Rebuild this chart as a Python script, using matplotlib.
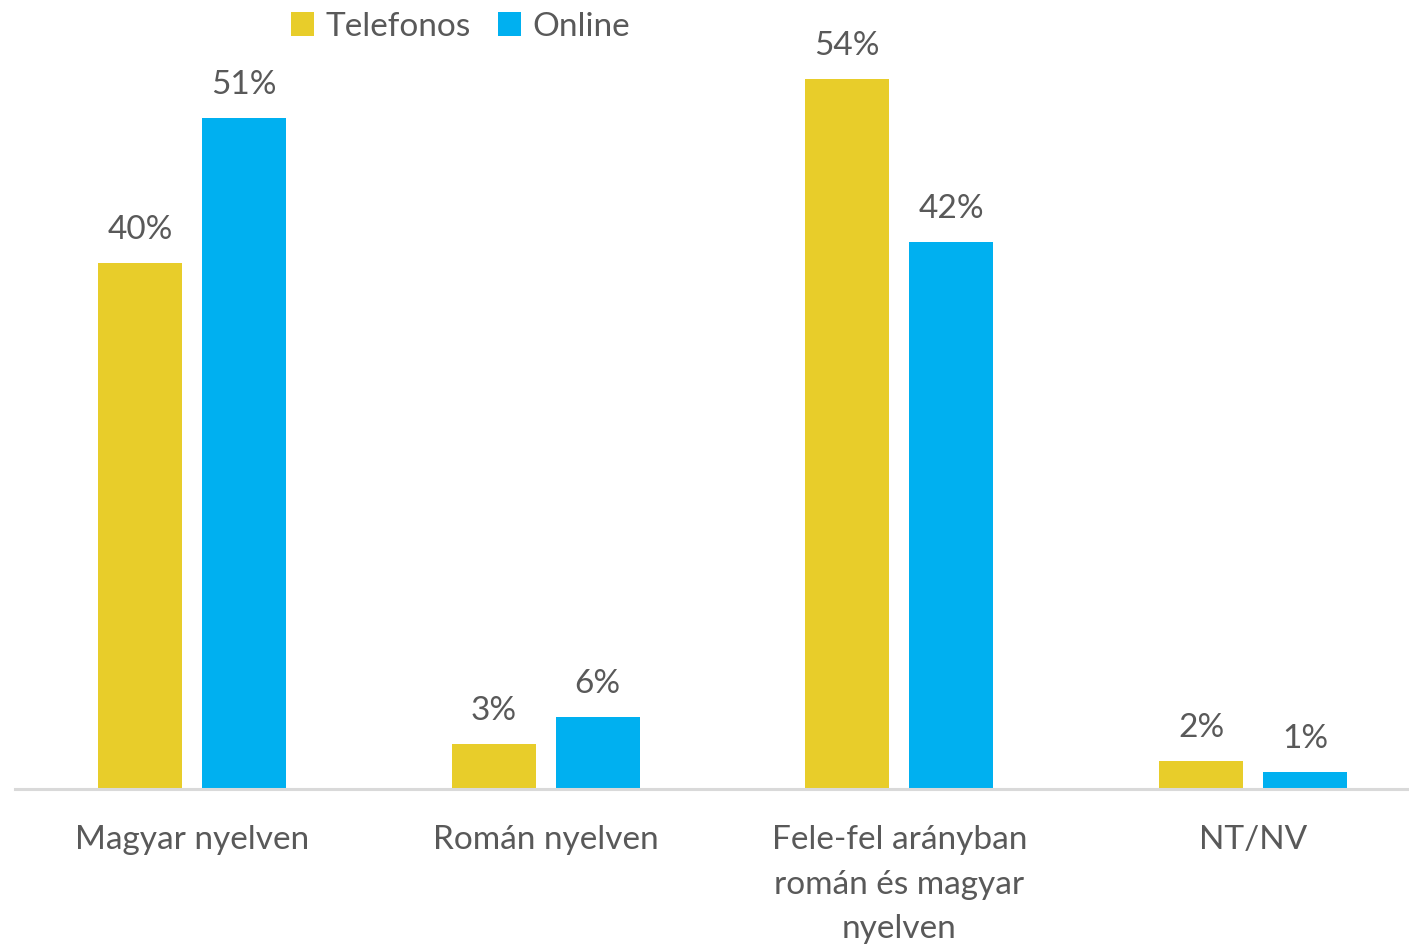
import matplotlib
matplotlib.use("Agg")
import matplotlib.pyplot as plt
import numpy as np

categories = ["Magyar nyelven", "Román nyelven", "Fele-fel arányban\nromán és magyar\nnyelven", "NT/NV"]
series_names = ["Telefonos", "Online"]
telefonos = [40, 3.4, 54, 2.1]
online = [51, 5.5, 41.6, 1.3]
telefonos_labels = ["40%", "3%", "54%", "2%"]
online_labels = ["51%", "6%", "42%", "1%"]

colors = ["#E8CD2A", "#00B0F0"]
text_color = "#595959"
FONT = "Lato"
FS = 24

W, H = 1409, 947
fig = plt.figure(figsize=(W / 100, H / 100), dpi=100)
# axes: left at x=15px, right at 1409px, baseline at y=789px, top at y=0
ax = fig.add_axes([15 / W, (H - 789) / H, (W - 15) / W, 789 / H])

x = np.arange(len(categories))
width = 0.237
off = 0.147
b1 = ax.bar(x - off, telefonos, width, color=colors[0], label=series_names[0], zorder=2)
b2 = ax.bar(x + off, online, width, color=colors[1], label=series_names[1], zorder=2)

for bars, labs in ((b1, telefonos_labels), (b2, online_labels)):
    for b, lab in zip(bars, labs):
        ax.annotate(lab, (b.get_x() + b.get_width() / 2, b.get_height()),
                    xytext=(0, 13), textcoords="offset points",
                    ha="center", va="bottom", fontsize=FS, color=text_color, family=FONT)

ax.set_xlim(-0.5, 3.5 - 21 / 354)
ax.set_ylim(0, 789 / 13.15)
ax.set_yticks([])
ax.set_xticks(x)
ax.set_xticklabels(categories, fontsize=FS, color=text_color, family=FONT, linespacing=1.6)
ax.tick_params(axis="x", length=0, pad=26)
for s in ["top", "right", "left"]:
    ax.spines[s].set_visible(False)
ax.spines["bottom"].set_color("#D9D9D9")
ax.spines["bottom"].set_linewidth(2.2)

leg = fig.legend(handles=[b1, b2], labels=series_names, loc="upper left",
                 bbox_to_anchor=(274 / W, 1.0 + 5 / H), ncol=2, frameon=False,
                 prop={"family": FONT, "size": FS}, handlelength=0.7, handleheight=0.7,
                 handletextpad=0.35, columnspacing=0.8, borderaxespad=0.1)
for t in leg.get_texts():
    t.set_color(text_color)

fig.savefig("out.png", dpi=100)
